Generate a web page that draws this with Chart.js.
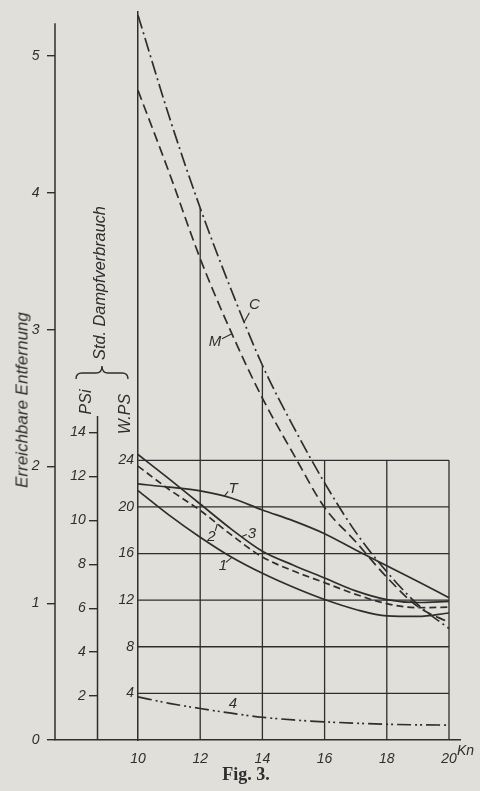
<!DOCTYPE html>
<html>
<head>
<meta charset="utf-8">
<style>
  html, body { margin: 0; padding: 0; background: #e1dfd9; }
  #wrap { position: relative; width: 480px; height: 791px; overflow: hidden; }
  canvas { position: absolute; left: 0; top: 0; }
  .lbl { position: absolute; color: #2e2e2e; font-family: "Liberation Sans", sans-serif; font-style: italic; white-space: nowrap; line-height: 1; }
  .rot { transform: translate(-50%, -50%) rotate(-90deg); }
  .fig { position: absolute; left: 246px; top: 774px; transform: translate(-50%, -50%); font-family: "Liberation Serif", serif; font-weight: bold; font-size: 18px; color: #2e2e2e; white-space: nowrap; }
</style>
</head>
<body>
<div id="wrap">
  <canvas id="myChart" width="480" height="791"></canvas>
  <div class="lbl rot" style="left:22px; top:400px; font-size:17px;">Erreichbare Entfernung</div>
  <div class="lbl rot" style="left:99px; top:283px; font-size:16.3px;">Std. Dampfverbrauch</div>
  <div class="lbl rot" style="left:86px; top:402px; font-size:16px;">PSi</div>
  <div class="lbl rot" style="left:125px; top:414px; font-size:16px;">W.PS</div>
  <svg style="position:absolute; left:74px; top:364px;" width="58" height="16">
    <path d="M2 15 Q2 9 8 9 L22 9 Q28 9 28 2 Q28 9 34 9 L48 9 Q54 9 54 15" fill="none" stroke="#2e2e2e" stroke-width="1.4"/>
  </svg>
  <div class="lbl" style="left:457px; top:743px; font-size:14px;">Kn</div>
  <div class="fig">Fig. 3.</div>
</div>

<script src="https://cdn.jsdelivr.net/npm/chart.js"></script>
<script>
// setup
const INK = '#2e2e2e';

const knots = [10, 11, 12, 13, 14, 15, 16, 17, 18, 19, 20];

// Erreichbare Entfernung (C = dash-dot, M = dashed)
const distC = [5.30, 4.56, 3.89, 3.29, 2.74, 2.29, 1.88, 1.52, 1.23, 0.99, 0.815];
const distM = [4.75, 4.15, 3.52, 2.98, 2.50, 2.09, 1.70, 1.45, 1.19, 0.975, 0.86];

// W.PS curves
const wps1 = [21.4, 19.3, 17.4, 15.7, 14.3, 13.1, 12.05, 11.2, 10.65, 10.6, 10.9];
const wps2 = [23.5, 21.5, 19.7, 17.6, 15.7, 14.5, 13.5, 12.5, 11.7, 11.35, 11.4];
const wps3 = [24.5, 22.4, 20.25, 18.1, 16.2, 15.0, 13.9, 12.8, 12.05, 11.8, 11.9];
const wpsT = [21.97, 21.7, 21.37, 20.77, 19.74, 18.8, 17.7, 16.3, 14.96, 13.6, 12.2];
const wps4 = [3.7, 3.15, 2.7, 2.3, 1.95, 1.72, 1.56, 1.44, 1.35, 1.3, 1.28];

// tick labels
const ticksKn = [10, 12, 14, 16, 18, 20];
const ticksE = [0, 1, 2, 3, 4, 5];
const ticksP = [2, 4, 6, 8, 10, 12, 14];
const ticksW = [4, 8, 12, 16, 20, 24];

const pts = arr => knots.map((k, i) => ({x: k, y: arr[i]}));

const xMin = 7.3312, xMax = 20.3537, xPSi = 8.698;

const curve = (label, arr, axis, dash) => ({
  label, data: pts(arr), yAxisID: axis,
  borderColor: INK, borderWidth: 1.7, borderDash: dash,
  pointRadius: 0, fill: false, cubicInterpolationMode: 'monotone'
});

// value of a series at any speed (linear between read points)
function valueAt(arr, k) {
  const i = Math.min(Math.floor(k - knots[0]), knots.length - 2);
  const t = k - knots[i];
  return arr[i] + (arr[i + 1] - arr[i]) * t;
}

const tickFont = {family: 'Liberation Sans', style: 'italic', size: 14};

// grid of the W.PS field, short axis lines
const paperGrid = {
  id: 'paperGrid',
  beforeDatasetsDraw(chart) {
    const {ctx, scales: {x, yE, yP, yW}} = chart;
    const line = (x1, y1, x2, y2) => { ctx.beginPath(); ctx.moveTo(x1, y1); ctx.lineTo(x2, y2); ctx.stroke(); };
    ctx.save();
    ctx.strokeStyle = INK;
    ctx.lineWidth = 1.3;
    ticksW.forEach(v => {
      const py = yW.getPixelForValue(v);
      line(x.getPixelForValue(10), py, x.getPixelForValue(20), py);
    });
    ticksKn.slice(1).forEach(k => {
      const i = knots.indexOf(k);
      const px = x.getPixelForValue(k);
      const top = Math.min(yW.getPixelForValue(24), yE.getPixelForValue(distC[i]));
      line(px, yW.getPixelForValue(0), px, top);
    });
    ctx.lineWidth = 1.5;
    const pe = x.getPixelForValue(xMin);
    line(pe, yE.getPixelForValue(0), pe, yE.getPixelForValue(5.24));
    const pp = x.getPixelForValue(xPSi);
    line(pp, yP.getPixelForValue(0), pp, yP.getPixelForValue(14.75));
    ctx.restore();
  }
};

// curve names with their little leader strokes
const curveNames = [
  {t: 'C', arr: distC, axis: 'yE', k: 13.42, dx: 10, dy: -17, lx: 5, ly: -9},
  {t: 'M', arr: distM, axis: 'yE', k: 13.02, dx: -17, dy: 8, lx: -10, ly: 5},
  {t: 'T', arr: wpsT, axis: 'yW', k: 12.77, dx: 9, dy: -8, lx: 4, ly: -5},
  {t: '3', arr: wps3, axis: 'yW', k: 13.34, dx: 10, dy: -3, lx: 5, ly: -2},
  {t: '2', arr: wps2, axis: 'yW', k: 12.55, dx: -6, dy: 13, lx: -2, ly: 7},
  {t: '1', arr: wps1, axis: 'yW', k: 13.02, dx: -9, dy: 8, lx: -6, ly: 5},
  {t: '4', arr: wps4, axis: 'yW', k: 13.05, dx: 0, dy: -10, lx: 0, ly: 0}
];

const curveLabels = {
  id: 'curveLabels',
  afterDatasetsDraw(chart) {
    const {ctx, scales} = chart;
    ctx.save();
    ctx.fillStyle = INK;
    ctx.strokeStyle = INK;
    ctx.lineWidth = 1.1;
    ctx.font = 'italic 15px "Liberation Sans"';
    ctx.textAlign = 'center';
    ctx.textBaseline = 'middle';
    curveNames.forEach(n => {
      const px = scales.x.getPixelForValue(n.k);
      const py = scales[n.axis].getPixelForValue(valueAt(n.arr, n.k));
      if (n.lx || n.ly) {
        ctx.beginPath(); ctx.moveTo(px, py); ctx.lineTo(px + n.lx, py + n.ly); ctx.stroke();
      }
      ctx.fillText(n.t, px + n.dx, py + n.dy);
    });
    ctx.restore();
  }
};

const data = {
  datasets: [
    curve('C', distC, 'yE', [14, 4, 2, 4]),
    curve('M', distM, 'yE', [10, 5]),
    curve('T', wpsT, 'yW', []),
    curve('1', wps1, 'yW', []),
    curve('2', wps2, 'yW', [7, 4]),
    curve('3', wps3, 'yW', []),
    curve('4', wps4, 'yW', [14, 4, 2, 3, 2, 4])
  ]
};

// config
const config = {
  type: 'line',
  data,
  options: {
    responsive: false,
    animation: false,
    events: [],
    layout: {padding: {left: 55, right: 20, top: 8, bottom: 11}},
    plugins: {legend: {display: false}, tooltip: {enabled: false}},
    scales: {
      x: {
        type: 'linear', min: xMin, max: xMax, position: 'bottom',
        afterBuildTicks: s => { s.ticks = ticksKn.map(v => ({value: v})); },
        afterFit: s => { s.height = 40; },
        grid: {display: false},
        border: {color: INK, width: 1.6},
        ticks: {color: INK, font: tickFont, padding: 3, maxRotation: 0, autoSkip: false}
      },
      yE: {
        type: 'linear', min: 0, max: 5.3275, position: {x: xMin},
        afterBuildTicks: s => { s.ticks = ticksE.map(v => ({value: v})); },
        grid: {drawOnChartArea: false, color: INK, lineWidth: 1.4, tickLength: 8},
        border: {display: false},
        ticks: {color: INK, font: tickFont, autoSkip: false, callback: v => v + '    '}
      },
      yP: {
        type: 'linear', min: 0, max: 33.17, position: {x: xPSi},
        afterBuildTicks: s => { s.ticks = ticksP.map(v => ({value: v})); },
        grid: {drawOnChartArea: false, color: INK, lineWidth: 1.4, tickLength: 9},
        border: {display: false},
        ticks: {color: INK, font: tickFont, autoSkip: false, callback: v => v + '   '}
      },
      yW: {
        type: 'linear', min: 0, max: 62.52, position: {x: 10},
        afterBuildTicks: s => { s.ticks = ticksW.map(v => ({value: v})); },
        grid: {display: false},
        border: {color: INK, width: 1.5},
        ticks: {color: INK, font: tickFont, autoSkip: false, callback: v => v + ' '}
      }
    }
  },
  plugins: [paperGrid, curveLabels]
};

// render init block
const myChart = new Chart(document.getElementById('myChart'), config);
</script>
</body>
</html>
